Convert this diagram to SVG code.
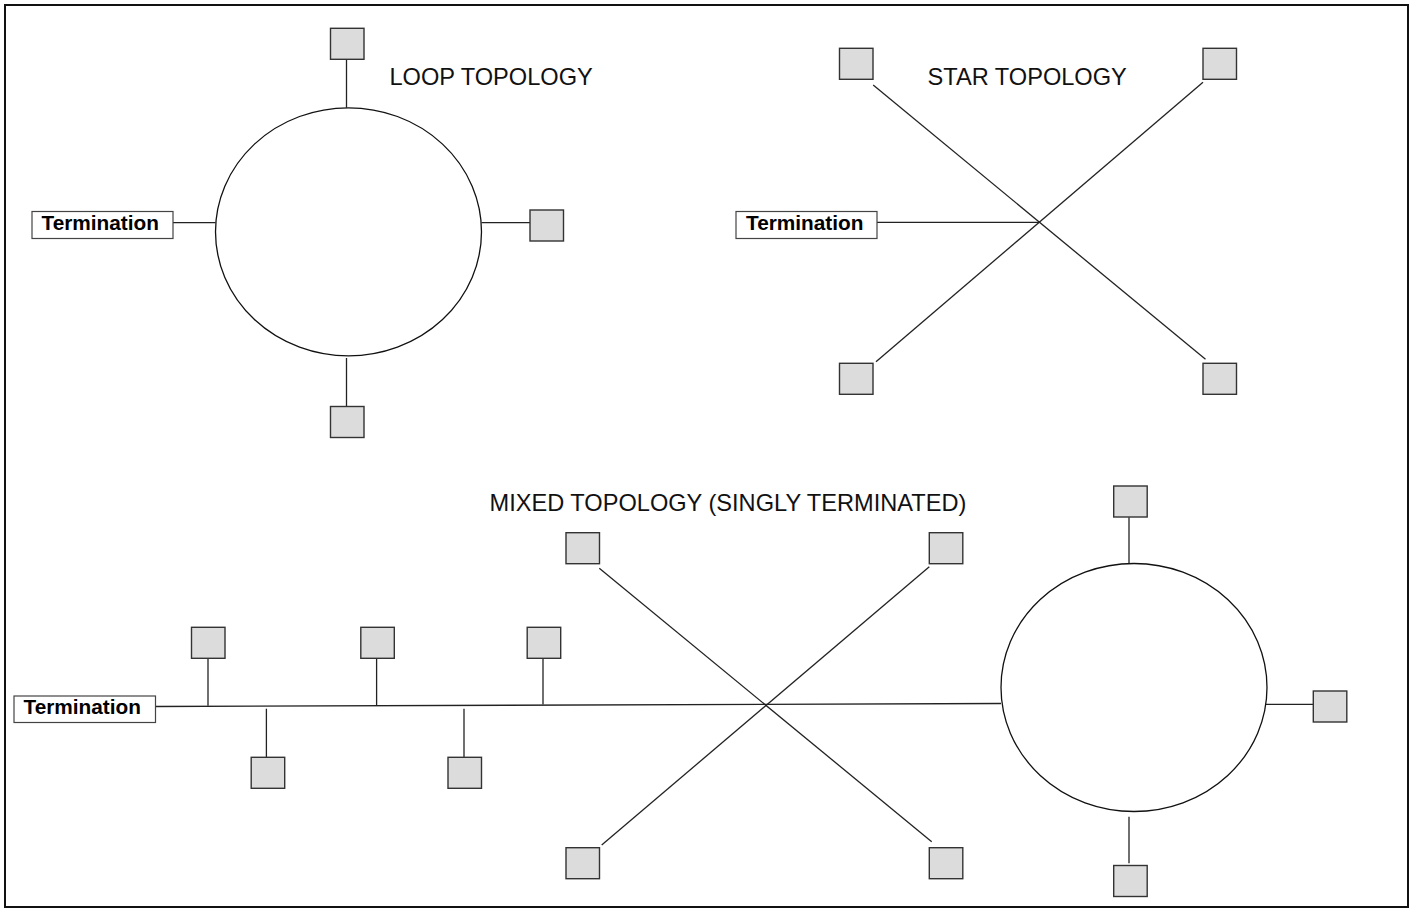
<svg xmlns="http://www.w3.org/2000/svg" width="1415" height="909" viewBox="0 0 1415 909">
<style>
.frame{fill:#fff;stroke:#111;stroke-width:2}
.dev{fill:#dcdcdc;stroke:#333;stroke-width:1.4}
.term{fill:#fff;stroke:#444;stroke-width:1.2}
.ring{fill:none;stroke:#111;stroke-width:1.3}
.wire{stroke:#222;stroke-width:1.3;fill:none}
.title{font-family:"Liberation Sans",Arial,sans-serif;font-size:23.6px;fill:#111}
.tlabel{font-family:"Liberation Sans",Arial,sans-serif;font-size:20.8px;font-weight:bold;fill:#000}
</style>
<rect class="frame" x="5" y="5" width="1403" height="902"/>

<g id="connectors">
  <line class="wire" x1="346.5" y1="59.3" x2="346.5" y2="107.7"/>
  <line class="wire" x1="481.6" y1="222.7" x2="530" y2="222.7"/>
  <line class="wire" x1="346.5" y1="358" x2="346.5" y2="406.5"/>
  <line class="wire" x1="173" y1="222.7" x2="215.5" y2="222.7"/>
  <line class="wire" x1="873.2" y1="85" x2="1205.5" y2="359.3"/>
  <line class="wire" x1="1203" y1="82.3" x2="876" y2="361.7"/>
  <line class="wire" x1="877" y1="222.3" x2="1040" y2="222.3"/>
  <line class="wire" x1="155.5" y1="706.5" x2="1001" y2="703.5"/>
  <line class="wire" x1="208" y1="658.3" x2="208" y2="705.8"/>
  <line class="wire" x1="376.6" y1="658.3" x2="376.6" y2="705.2"/>
  <line class="wire" x1="543" y1="658.3" x2="543" y2="704.6"/>
  <line class="wire" x1="266.4" y1="708.7" x2="266.4" y2="757.3"/>
  <line class="wire" x1="464" y1="708.7" x2="464" y2="757.3"/>
  <line class="wire" x1="599.3" y1="568.3" x2="931.7" y2="841.7"/>
  <line class="wire" x1="929.3" y1="566.7" x2="601.7" y2="845"/>
  <line class="wire" x1="1129" y1="517.3" x2="1129" y2="563.3"/>
  <line class="wire" x1="1265" y1="704.3" x2="1313.3" y2="704.3"/>
  <line class="wire" x1="1129" y1="816.7" x2="1129" y2="863.3"/>
</g>

<g id="loop-ring"><ellipse class="ring" cx="348.5" cy="231.8" rx="133" ry="124"/></g>
<g id="loop-title"><text class="title" x="389.5" y="85">LOOP TOPOLOGY</text></g>
<g id="loop-term"><rect class="term" x="32" y="211.5" width="141" height="27"/><text class="tlabel" x="41.5" y="230">Termination</text></g>
<g id="loop-dev-top"><rect class="dev" x="330.5" y="28.3" width="33.5" height="31"/></g>
<g id="loop-dev-right"><rect class="dev" x="530" y="210" width="33.5" height="31"/></g>
<g id="loop-dev-bottom"><rect class="dev" x="330.5" y="406.5" width="33.5" height="31"/></g>

<g id="star-title"><text class="title" x="927.5" y="85">STAR TOPOLOGY</text></g>
<g id="star-term"><rect class="term" x="736" y="211.5" width="141" height="27"/><text class="tlabel" x="746" y="230">Termination</text></g>
<g id="star-dev-tl"><rect class="dev" x="839.5" y="48.3" width="33.5" height="31"/></g>
<g id="star-dev-tr"><rect class="dev" x="1203" y="48.3" width="33.5" height="31"/></g>
<g id="star-dev-bl"><rect class="dev" x="839.5" y="363.3" width="33.5" height="31"/></g>
<g id="star-dev-br"><rect class="dev" x="1203" y="363.3" width="33.5" height="31"/></g>

<g id="mixed-title"><text class="title" x="489.5" y="511">MIXED TOPOLOGY (SINGLY TERMINATED)</text></g>
<g id="mixed-term"><rect class="term" x="14" y="696" width="141.5" height="26.5"/><text class="tlabel" x="23.5" y="714">Termination</text></g>
<g id="bus-dev-1"><rect class="dev" x="191.5" y="627.3" width="33.5" height="31"/></g>
<g id="bus-dev-2"><rect class="dev" x="360.8" y="627.3" width="33.5" height="31"/></g>
<g id="bus-dev-3"><rect class="dev" x="527.2" y="627.3" width="33.5" height="31"/></g>
<g id="bus-dev-4"><rect class="dev" x="251.2" y="757.3" width="33.5" height="31"/></g>
<g id="bus-dev-5"><rect class="dev" x="448" y="757.3" width="33.5" height="31"/></g>
<g id="mstar-dev-tl"><rect class="dev" x="566" y="532.7" width="33.5" height="31"/></g>
<g id="mstar-dev-tr"><rect class="dev" x="929.3" y="532.7" width="33.5" height="31"/></g>
<g id="mstar-dev-bl"><rect class="dev" x="566" y="847.7" width="33.5" height="31"/></g>
<g id="mstar-dev-br"><rect class="dev" x="929.3" y="847.7" width="33.5" height="31"/></g>
<g id="mloop-ring"><ellipse class="ring" cx="1134" cy="687.5" rx="133" ry="124"/></g>
<g id="mloop-dev-top"><rect class="dev" x="1113.7" y="486" width="33.5" height="31"/></g>
<g id="mloop-dev-right"><rect class="dev" x="1313.3" y="691" width="33.5" height="31"/></g>
<g id="mloop-dev-bottom"><rect class="dev" x="1113.7" y="865.5" width="33.5" height="31"/></g>
</svg>
